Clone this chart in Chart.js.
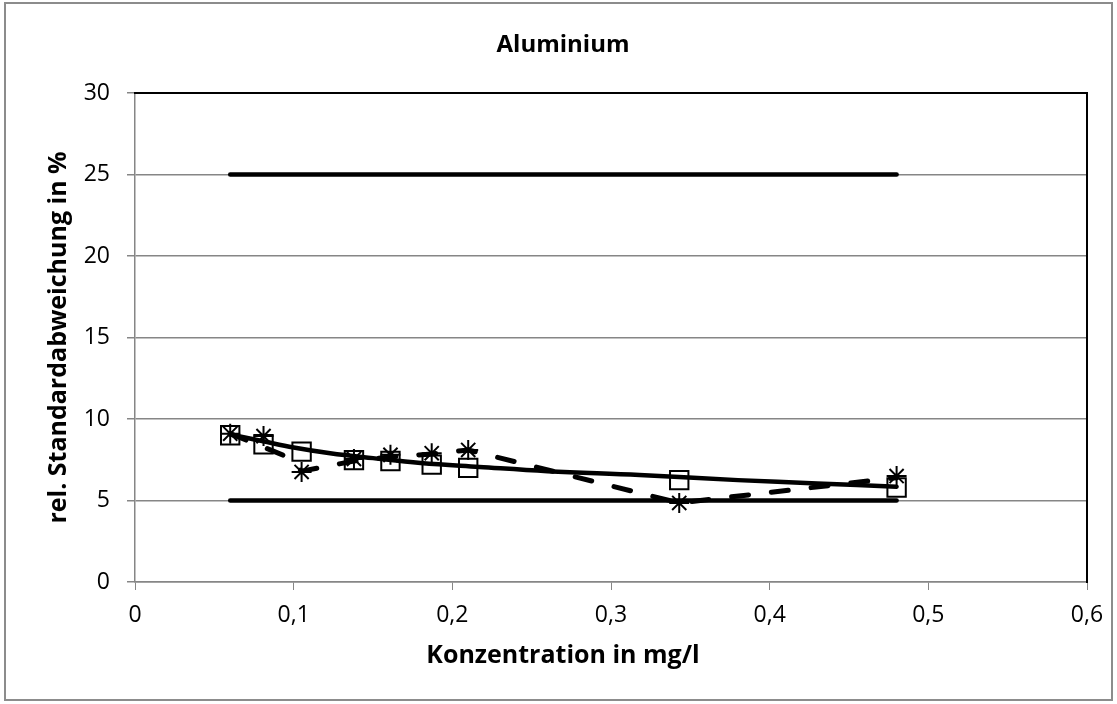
<!DOCTYPE html>
<html>
<head>
<meta charset="utf-8">
<script src="https://cdn.jsdelivr.net/npm/chart.js@4/dist/chart.umd.min.js"></script>
<style>
  body { margin: 0; background: #fff; }
  canvas { display: block; }
</style>
</head>
<body>
<canvas id="chart" width="1117" height="704"></canvas>
<script>
// values
const squareX = [0.06, 0.081, 0.105, 0.138, 0.161, 0.187, 0.21, 0.343, 0.48];
const squareY = [9.0, 8.45, 8.0, 7.48, 7.42, 7.2, 7.0, 6.25, 5.8];

const starX = [0.06, 0.081, 0.105, 0.138, 0.161, 0.187, 0.21, 0.343, 0.48];
const starY = [9.1, 8.95, 6.75, 7.55, 7.8, 7.9, 8.1, 4.85, 6.5];

// dashed curve
const dashX = [0.06, 0.093, 0.105, 0.138, 0.161, 0.187, 0.21, 0.343, 0.48];
const dashY = [9.1, 7.8, 6.8, 7.42, 7.68, 7.85, 8.1, 4.85, 6.4];

// solid trend curve
const trendX = [0.06, 0.08, 0.1, 0.123, 0.15, 0.18, 0.217, 0.26, 0.318, 0.38, 0.43, 0.48];
const trendY = [9.05, 8.65, 8.25, 7.9, 7.6, 7.3, 7.06, 6.8, 6.56, 6.25, 6.05, 5.85];

// limit lines
const limitX = [0.06, 0.48];
const upperLimit = [25, 25];
const lowerLimit = [5, 5];

const xTickLabels = ["0", "0,1", "0,2", "0,3", "0,4", "0,5", "0,6"];
const yTickLabels = ["0", "5", "10", "15", "20", "25", "30"];

const pts = (xs, ys) => xs.map((x, i) => ({ x, y: ys[i] }));

const frame = {
  id: "frame",
  beforeDraw(chart) {
    const ctx = chart.ctx;
    ctx.save();
    ctx.fillStyle = "#fff";
    ctx.fillRect(0, 0, chart.width, chart.height);
    ctx.strokeStyle = "#8c8c8c";
    ctx.lineWidth = 2;
    ctx.strokeRect(5, 3, 1107, 697);
    ctx.restore();
  },
};

const lineDs = (label, data, extra) =>
  Object.assign(
    {
      label,
      data,
      showLine: true,
      borderColor: "#000",
      borderWidth: 4.5,
      borderCapStyle: "round",
      pointRadius: 0,
      tension: 0,
    },
    extra
  );

const gray = "#868686";
const font = "'Open Sans', sans-serif";

new Chart(document.getElementById("chart"), {
  type: "scatter",
  data: {
    datasets: [
      lineDs("Obergrenze", pts(limitX, upperLimit)),
      lineDs("Untergrenze", pts(limitX, lowerLimit)),
      lineDs("Trend", pts(trendX, trendY), { tension: 0.4 }),
      lineDs("Verlauf", pts(dashX, dashY), { borderDash: [17, 23], borderWidth: 5 }),
      {
        label: "Serie 1",
        data: pts(squareX, squareY),
        pointStyle: "rect",
        pointRadius: 13,
        pointBorderWidth: 2,
        pointBorderColor: "#000",
        pointBackgroundColor: "rgba(0,0,0,0)",
      },
      {
        label: "Serie 2",
        data: pts(starX, starY),
        pointStyle: "star",
        pointRadius: 10,
        pointBorderWidth: 2,
        pointBorderColor: "#000",
      },
    ],
  },
  options: {
    responsive: false,
    animation: false,
    devicePixelRatio: 1,
    layout: { padding: { left: 9, right: 0, top: 0, bottom: 0 } },
    plugins: {
      legend: { display: false },
      tooltip: { enabled: false },
      title: {
        display: true,
        text: "Aluminium",
        color: "#000",
        font: { family: font, size: 24, weight: "bold" },
        padding: { top: 31, bottom: 33.2 },
      },
      // x axis title, centred on the whole chart like the original
      subtitle: {
        display: true,
        position: "bottom",
        text: "Konzentration in mg/l",
        color: "#000",
        font: { family: font, size: 25, weight: "bold" },
        padding: { top: 0, bottom: 33 },
      },
    },
    scales: {
      x: {
        type: "linear",
        min: 0,
        max: 0.6,
        afterFit: (s) => { s.height = 59; },
        afterBuildTicks: (s) => { s.ticks = xTickLabels.map((_, i) => ({ value: i / 10 })); },
        ticks: {
          color: "#000",
          padding: 12,
          font: { family: font, size: 23 },
          callback: (v, i) => xTickLabels[i],
        },
        grid: { drawOnChartArea: false, color: gray, tickLength: 8 },
        border: { color: gray, width: 1.5 },
      },
      y: {
        type: "linear",
        min: 0,
        max: 30,
        afterFit: (s) => { s.width = 126; },
        afterBuildTicks: (s) => { s.ticks = yTickLabels.map((_, i) => ({ value: i * 5 })); },
        ticks: {
          color: "#000",
          padding: 17,
          font: { family: font, size: 23 },
          callback: (v, i) => yTickLabels[i],
        },
        grid: { color: gray, lineWidth: 1.5, tickLength: 8 },
        border: { color: gray, width: 1.5 },
        title: {
          display: true,
          text: "rel. Standardabweichung in %",
          color: "#000",
          font: { family: font, size: 25, weight: "bold" },
          padding: { top: 35 },
        },
      },
      x2: {
        type: "linear",
        position: "top",
        min: 0,
        max: 0.6,
        afterFit: (s) => { s.height = 0; },
        ticks: { display: false },
        grid: { display: false },
        border: { color: "#000", width: 2 },
      },
      y2: {
        type: "linear",
        position: "right",
        min: 0,
        max: 30,
        afterFit: (s) => { s.width = 30; },
        ticks: { display: false },
        grid: { display: false },
        border: { color: "#000", width: 2 },
      },
    },
  },
  plugins: [frame],
});
</script>
</body>
</html>
